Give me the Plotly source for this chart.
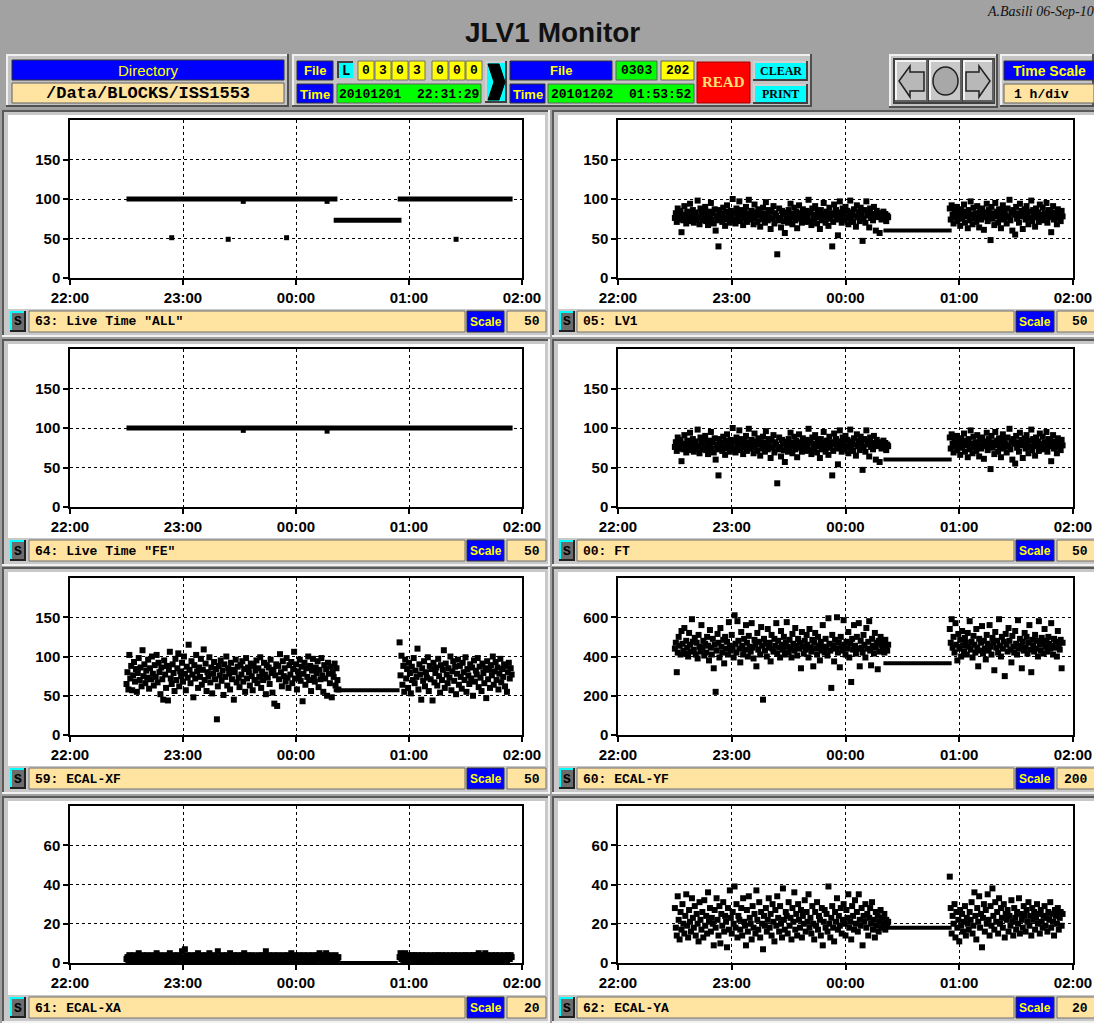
import numpy as np
import plotly.graph_objects as go

W, H = 1094, 1023

# ------------------------------------------------------------------ data
TICK_MIN = [0, 60, 120, 180, 240]            # minutes after 22:00
TICK_TXT = ["22:00", "23:00", "00:00", "01:00", "02:00"]
SEG_A_START = 30.0     # first block of samples starts 22:30
SEG_B_START = 175.0    # second block of samples starts 00:55
STEP = 0.5             # sampling step, minutes

LV1_A = [76, 82, 71, 88, 79, 74, 85, 58, 80, 73, 91, 77, 69, 84, 78, 72, 94, 81, 75, 86,
         70, 79, 83, 74, 98, 77, 68, 88, 81, 73, 85, 76, 90, 72, 80, 67, 84, 78, 95, 74,
         82, 69, 87, 60, 79, 73, 40, 86, 75, 81, 71, 89, 77, 66, 84, 92, 74, 80, 70, 85,
         78, 100, 73, 83, 69, 88, 76, 81, 97, 72, 86, 79, 67, 84, 75, 90, 71, 82, 99, 77,
         74, 85, 80, 68, 93, 76, 83, 71, 87, 79, 65, 82, 74, 89, 78, 70, 96, 81, 73, 86,
         77, 62, 84, 75, 91, 69, 82, 79, 30, 73, 88, 76, 64, 85, 80, 72, 57, 83, 78, 70,
         86, 74, 94, 81, 68, 77, 89, 73, 84, 63, 79, 92, 75, 82, 70, 87, 76, 80, 71, 85,
         78, 99, 72, 83, 67, 88, 80, 74, 91, 77, 69, 84, 79, 62, 86, 73, 81, 95, 76, 70,
         84, 78, 66, 89, 75, 82, 40, 71, 93, 79, 86, 74, 54, 83, 97, 77, 70, 88, 81, 73,
         90, 76, 85, 68, 80, 98, 74, 83, 71, 87, 79, 65, 92, 77, 84, 72, 89, 81, 47, 75,
         86, 70, 97, 79, 83, 64, 88, 76, 81, 73, 90, 78, 60, 85, 77, 82, 57, 79, 74, 80,
         84, 76, 81, 72, 79, 77]
LV1_B = [88, 74, 92, 80, 69, 85, 77, 90, 72, 83, 79, 66, 87, 75, 81, 93, 70, 84, 78, 63,
         86, 73, 97, 80, 68, 89, 76, 82, 71, 91, 78, 64, 85, 74, 88, 80, 61, 83, 77, 94,
         72, 86, 79, 48, 90, 75, 82, 67, 95, 78, 84, 70, 87, 76, 63, 81, 92, 74, 85, 79,
         69, 88, 77, 99, 73, 83, 60, 86, 80, 55, 90, 75, 82, 70, 94, 78, 85, 62, 79, 87,
         74, 91, 81, 68, 84, 76, 98, 72, 86, 79, 65, 88, 77, 83, 71, 93, 80, 75, 89, 73,
         82, 78, 95, 70, 86, 77, 84, 58, 80, 91, 74, 83, 79, 68, 87, 76, 81, 72, 85, 78]

XF_A = [65, 80, 58, 102, 72, 88, 57, 76, 93, 68, 84, 55, 79, 98, 70, 86, 62, 108, 75, 90,
        66, 82, 73, 96, 59, 85, 71, 100, 78, 63, 89, 74, 102, 67, 92, 80, 52, 86, 71, 45,
        95, 77, 60, 88, 44, 83, 106, 72, 65, 90, 79, 56, 97, 70, 85, 104, 62, 81, 75, 92,
        68, 100, 78, 57, 87, 73, 115, 83, 66, 94, 77, 48, 89, 72, 102, 81, 60, 86, 74, 97,
        64, 83, 109, 70, 91, 56, 80, 75, 99, 67, 86, 53, 78, 93, 71, 84, 20, 62, 88, 76,
        95, 69, 82, 51, 90, 74, 100, 63, 85, 78, 58, 92, 71, 83, 45, 80, 96, 67, 87, 73,
        61, 89, 77, 94, 68, 84, 55, 98, 72, 86, 80, 63, 91, 75, 57, 88, 70, 82, 95, 66,
        85, 74, 99, 60, 81, 70, 92, 77, 52, 89, 73, 86, 65, 96, 79, 54, 83, 40, 76, 90,
        37, 88, 71, 103, 80, 62, 94, 75, 85, 68, 98, 73, 60, 89, 77, 93, 66, 84, 106, 72,
        90, 58, 81, 75, 96, 69, 87, 43, 78, 92, 64, 85, 74, 100, 70, 88, 56, 82, 97, 73,
        68, 86, 79, 94, 61, 83, 71, 98, 76, 55, 89, 72, 84, 50, 92, 78, 66, 87, 48, 80,
        74, 91, 63, 85, 70, 58]
XF_B = [118, 76, 101, 64, 88, 55, 96, 72, 84, 60, 92, 79, 53, 87, 70, 98, 66, 82, 74, 110,
        58, 90, 77, 45, 85, 69, 94, 62, 80, 73, 99, 56, 88, 71, 84, 44, 92, 67, 79, 86,
        63, 97, 75, 54, 89, 70, 83, 108, 60, 91, 77, 66, 85, 73, 100, 57, 81, 94, 69, 87,
        52, 78, 96, 64, 88, 74, 59, 92, 80, 70, 99, 55, 84, 76, 65, 90, 72, 86, 50, 95,
        68, 82, 77, 98, 61, 87, 73, 56, 91, 79, 66, 85, 47, 94, 71, 83, 60, 89, 76, 100,
        64, 81, 93, 70, 86, 58, 78, 97, 67, 84, 74, 90, 62, 88, 55, 80, 92, 72, 85, 77]

YF_A = [440, 470, 320, 420, 500, 455, 410, 530, 465, 430, 545, 415, 480, 445, 400, 520, 460, 425, 590, 475,
        435, 495, 410, 470, 390, 510, 450, 425, 560, 440, 480, 405, 465, 420, 500, 455, 380, 535, 445, 410,
        490, 340, 460, 220, 430, 515, 470, 395, 545, 450, 420, 485, 365, 500, 440, 475, 410, 575, 455, 430,
        510, 445, 395, 610, 465, 420, 580, 480, 440, 370, 525, 455, 410, 490, 435, 560, 470, 400, 505, 450,
        425, 570, 445, 390, 485, 460, 350, 520, 435, 475, 410, 550, 455, 180, 490, 430, 465, 400, 540, 445,
        470, 375, 510, 440, 425, 490, 455, 570, 415, 480, 445, 395, 530, 460, 435, 500, 410, 470, 575, 450,
        420, 485, 440, 395, 515, 465, 430, 545, 455, 405, 490, 440, 470, 340, 525, 450, 415, 480, 435, 510,
        460, 395, 540, 445, 425, 485, 350, 470, 520, 440, 410, 500, 455, 380, 475, 430, 560, 450, 420, 490,
        445, 405, 595, 465, 430, 240, 510, 455, 375, 485, 440, 600, 420, 470, 345, 500, 450, 430, 585, 460,
        410, 475, 440, 525, 395, 465, 270, 490, 435, 560, 455, 415, 500, 440, 570, 350, 480, 445, 420, 510,
        460, 395, 545, 440, 475, 580, 430, 355, 490, 455, 415, 520, 445, 470, 335, 480, 425, 500, 460, 440,
        470, 420, 485, 450, 430, 460]
YF_B = [540, 470, 590, 445, 500, 420, 570, 460, 380, 515, 440, 485, 400, 530, 455, 425, 495, 470, 410, 520,
        450, 580, 435, 475, 395, 505, 460, 420, 540, 445, 350, 490, 430, 470, 555, 415, 480, 440, 385, 510,
        465, 430, 560, 450, 410, 495, 470, 330, 525, 445, 480, 420, 590, 455, 400, 500, 440, 475, 300, 515,
        460, 425, 545, 480, 435, 370, 505, 450, 420, 530, 465, 410, 585, 440, 490, 455, 340, 475, 430, 520,
        445, 500, 415, 470, 560, 435, 320, 485, 455, 425, 510, 440, 480, 400, 580, 460, 430, 495, 470, 415,
        540, 450, 480, 425, 500, 465, 440, 570, 455, 410, 490, 445, 475, 400, 530, 460, 435, 485, 340, 470]

YA_A = [28, 18, 14, 34, 22, 12, 26, 17, 30, 20, 15, 24, 35, 19, 13, 27, 21, 16, 33, 23,
        18, 29, 14, 25, 20, 11, 31, 22, 17, 26, 13, 32, 19, 24, 15, 36, 21, 28, 16, 23,
        20, 9, 27, 18, 33, 22, 14, 29, 10, 25, 19, 31, 16, 24, 21, 8, 28, 17, 37, 23,
        15, 26, 20, 39, 18, 30, 13, 24, 22, 17, 28, 14, 33, 21, 19, 9, 27, 16, 34, 23,
        20, 12, 29, 18, 25, 15, 37, 22, 17, 31, 13, 26, 20, 7, 24, 19, 28, 16, 22, 33,
        18, 25, 14, 30, 21, 11, 27, 19, 34, 23, 16, 29, 20, 13, 38, 22, 17, 26, 24, 15,
        31, 19, 23, 12, 28, 21, 36, 17, 25, 14, 30, 22, 18, 27, 13, 24, 20, 32, 16, 26,
        21, 35, 18, 23, 15, 29, 20, 12, 26, 19, 31, 17, 24, 22, 14, 28, 9, 21, 27, 18,
        25, 16, 39, 20, 13, 23, 29, 18, 11, 26, 21, 33, 17, 24, 19, 28, 15, 22, 30, 20,
        14, 27, 23, 35, 18, 21, 12, 29, 24, 17, 32, 20, 26, 16, 35, 22, 19, 28, 9, 24,
        21, 30, 18, 25, 14, 23, 28, 20, 31, 17, 22, 13, 26, 19, 24, 16, 21, 27, 18, 23,
        20, 25, 17, 22, 19, 21]
YA_B = [44, 28, 15, 24, 20, 30, 13, 26, 18, 22, 11, 27, 19, 25, 16, 21, 29, 14, 23, 20,
        17, 26, 22, 31, 15, 19, 36, 24, 12, 28, 21, 34, 18, 25, 8, 23, 30, 16, 27, 20,
        35, 22, 14, 29, 19, 38, 24, 17, 31, 21, 26, 15, 33, 20, 28, 23, 18, 30, 13, 25,
        22, 27, 16, 24, 19, 32, 21, 14, 28, 23, 17, 26, 20, 33, 15, 25, 22, 18, 29, 24,
        16, 27, 21, 31, 19, 24, 14, 28, 22, 26, 17, 23, 30, 20, 25, 15, 27, 21, 18, 24,
        29, 19, 23, 16, 26, 22, 31, 18, 25, 21, 14, 27, 24, 20, 28, 17, 23, 26, 19, 25]

XA_A = [2, 3, 1, 4, 2, 3, 1, 2, 4, 3, 1, 2, 3, 5, 2, 1, 3, 4, 2, 3,
        1, 2, 4, 3, 2, 1, 3, 2, 4, 1, 3, 2, 5, 3, 1, 2, 4, 2, 3, 1,
        3, 2, 4, 1, 2, 3, 5, 2, 1, 3, 4, 2, 3, 1, 2, 4, 3, 2, 1, 6,
        2, 3, 7, 1, 4, 2, 3, 1, 2, 4, 3, 2, 1, 3, 4, 2, 5, 1, 3, 2,
        4, 1, 2, 3, 2, 4, 1, 3, 5, 2, 3, 1, 4, 2, 3, 2, 1, 6, 3, 2,
        1, 3, 4, 2, 3, 1, 2, 4, 3, 2, 5, 1, 3, 2, 4, 1, 2, 3, 4, 2,
        3, 1, 2, 4, 3, 5, 2, 1, 3, 4, 2, 3, 1, 2, 4, 3, 2, 1, 3, 2,
        4, 2, 1, 3, 2, 4, 3, 1, 6, 2, 3, 4, 1, 2, 3, 2, 4, 1, 3, 2,
        2, 4, 1, 3, 2, 3, 1, 4, 2, 3, 2, 1, 4, 3, 2, 5, 1, 3, 2, 4,
        3, 1, 2, 4, 2, 3, 1, 2, 4, 3, 2, 1, 3, 4, 2, 3, 1, 2, 4, 3,
        2, 1, 3, 4, 2, 5, 3, 1, 2, 4, 3, 2, 5, 1, 3, 2, 4, 3, 2, 1,
        3, 2, 4, 1, 2, 3]
XA_B = [3, 5, 2, 4, 1, 3, 5, 2, 1, 4, 3, 2, 1, 4, 3, 2, 4, 1, 3, 2,
        4, 2, 1, 3, 4, 2, 3, 1, 4, 2, 3, 1, 2, 4, 3, 2, 1, 3, 4, 2,
        2, 4, 1, 3, 2, 4, 3, 1, 2, 4, 3, 2, 1, 3, 4, 2, 3, 1, 4, 2,
        3, 1, 4, 2, 3, 2, 1, 4, 3, 2, 4, 1, 3, 2, 4, 3, 1, 2, 4, 3,
        2, 4, 1, 3, 5, 2, 3, 1, 4, 2, 3, 5, 1, 4, 2, 3, 1, 2, 4, 3,
        1, 3, 4, 2, 3, 1, 4, 2, 3, 1, 2, 4, 3, 2, 1, 4, 3, 2, 4, 3]

# live-time plateaus: start minute, end minute, level
LT_ALL_X0 = [30, 140, 174]
LT_ALL_X1 = [142, 176, 235]
LT_ALL_Y = [100, 73, 100]
LT_ALL_OX = [54, 84, 115, 205, 92, 136.5]
LT_ALL_OY = [51, 49, 51, 49, 97, 97]
LT_FE_X0 = [30]
LT_FE_X1 = [235]
LT_FE_Y = [100]
LT_FE_OX = [92, 136.5]
LT_FE_OY = [97, 96]

# constant level while beam gap (x0, x1, level)
FLAT_LV1 = (140, 176, 60)
FLAT_XF = (140, 175, 57)
FLAT_YF = (140, 176, 365)
FLAT_YA = (142, 176, 18)
FLAT_XA = (143, 174, 0)

PANELS = [
    dict(label='63: Live Time "ALL"', scale=50, ymax=200, kind="lt", lt=(LT_ALL_X0, LT_ALL_X1, LT_ALL_Y, LT_ALL_OX, LT_ALL_OY)),
    dict(label="05: LV1", scale=50, ymax=200, kind="cloud", a=LV1_A, b=LV1_B, flat=FLAT_LV1),
    dict(label='64: Live Time "FE"', scale=50, ymax=200, kind="lt", lt=(LT_FE_X0, LT_FE_X1, LT_FE_Y, LT_FE_OX, LT_FE_OY)),
    dict(label="00: FT", scale=50, ymax=200, kind="cloud", a=LV1_A, b=LV1_B, flat=FLAT_LV1),
    dict(label="59: ECAL-XF", scale=50, ymax=200, kind="cloud", a=XF_A, b=XF_B, flat=FLAT_XF),
    dict(label="60: ECAL-YF", scale=200, ymax=800, kind="cloud", a=YF_A, b=YF_B, flat=FLAT_YF),
    dict(label="61: ECAL-XA", scale=20, ymax=80, kind="cloud", a=XA_A, b=XA_B, flat=FLAT_XA),
    dict(label="62: ECAL-YA", scale=20, ymax=80, kind="cloud", a=YA_A, b=YA_B, flat=FLAT_YA),
]

# ------------------------------------------------------------------ helpers
def X(px):
    return px / W


def Y(py):
    return 1 - py / H


shapes = []
annots = []


def rect(x0, y0, x1, y1, fill, line=None, lw=1):
    shapes.append(dict(type="rect", xref="paper", yref="paper", x0=X(x0), x1=X(x1), y0=Y(y1), y1=Y(y0),
                       fillcolor=fill, line=dict(color=line or fill, width=lw if line else 0), layer="below"))


def hline(x0, x1, y, color, w=1):
    shapes.append(dict(type="line", xref="paper", yref="paper", x0=X(x0), x1=X(x1), y0=Y(y), y1=Y(y),
                       line=dict(color=color, width=w), layer="below"))


def vline(x, y0, y1, color, w=1):
    shapes.append(dict(type="line", xref="paper", yref="paper", x0=X(x), x1=X(x), y0=Y(y0), y1=Y(y1),
                       line=dict(color=color, width=w), layer="below"))


def bevel(x0, y0, x1, y1, fill, raised=True, light="#f0f0f0", dark="#505050", w=2):
    rect(x0, y0, x1, y1, fill)
    a, b = (light, dark) if raised else (dark, light)
    hline(x0, x1, y0 + w / 2, a, w)
    vline(x0 + w / 2, y0, y1, a, w)
    hline(x0, x1, y1 - w / 2, b, w)
    vline(x1 - w / 2, y0, y1, b, w)


def path(pts, fill, line, lw=1):
    d = "M " + " L ".join(f"{X(px):.5f},{Y(py):.5f}" for px, py in pts) + " Z"
    shapes.append(dict(type="path", xref="paper", yref="paper", path=d, fillcolor=fill,
                       line=dict(color=line, width=lw), layer="below"))


def text(x, y, s, size, color="black", family="Liberation Sans", bold=False, anchor="center", italic=False):
    annots.append(dict(x=X(x), y=Y(y), xref="paper", yref="paper", text=s, showarrow=False,
                       xanchor=anchor, yanchor="middle",
                       font=dict(size=size, color=color, family=family,
                                 weight="bold" if bold else "normal",
                                 style="italic" if italic else "normal")))


MONO = "Liberation Mono"
SANS = "Liberation Sans"
BLUE = "#0000ff"
YEL = "#ffff00"
BEIGE = "#ffe3a0"
GREEN = "#00ff00"
CYAN = "#00ffff"

# ------------------------------------------------------------------ header
rect(0, 0, W, 110, "#a2a2a2")
text(552, 33, "JLV1 Monitor", 28, "#111111", SANS, bold=True)
text(985, 12, "A.Basili 06-Sep-10", 14, "#111111", "Liberation Serif", italic=True, anchor="left")

# directory group
bevel(6, 54, 289, 107, "#c4c4c4", raised=True)
rect(12, 60, 284, 80, BLUE, "#303030")
text(148, 70.5, "Directory", 15, YEL, SANS)
rect(12, 83, 284, 103, BEIGE, "#606060")
text(148, 93.5, "/Data/BLOCKS/ISS1553", 17, "black", MONO, bold=True)

# file / time group
bevel(292, 54, 812, 107, "#c4c4c4", raised=True)
rect(297, 61, 333, 80, BLUE, "#303030")
text(315, 71, "File", 13, YEL, SANS, bold=True)
rect(297, 84, 333, 103, BLUE, "#303030")
text(315, 94, "Time", 13, YEL, SANS, bold=True)
bevel(337, 61, 355, 80, CYAN, raised=False, light="#c0c0c0", dark="#404040")
text(346, 71, "L", 14, "black", MONO, bold=True)
for i, d in enumerate("0303"):
    x0 = 358 + i * 17
    rect(x0, 61, x0 + 16, 80, YEL, "#707070")
    text(x0 + 8, 71, d, 13, "black", MONO, bold=True)
for i, d in enumerate("000"):
    x0 = 432 + i * 17
    rect(x0, 61, x0 + 16, 80, YEL, "#707070")
    text(x0 + 8, 71, d, 13, "black", MONO, bold=True)
rect(337, 84, 481, 103, GREEN, "#606060")
text(409, 94, "20101201  22:31:29", 13, "black", MONO, bold=True)
bevel(485, 61, 507, 103, CYAN, raised=True, light="#d0d0d0", dark="#404040")
path([(488, 64), (499, 64), (505, 82), (499, 100), (488, 100), (494, 82)], "black", "black")

rect(510, 61, 612, 80, BLUE, "#303030")
text(561, 71, "File", 13, YEL, SANS, bold=True)
rect(616, 61, 657, 80, GREEN, "#606060")
text(636.5, 71, "0303", 13, "black", MONO, bold=True)
rect(661, 61, 694, 80, YEL, "#606060")
text(677.5, 71, "202", 13, "black", MONO, bold=True)
rect(510, 84, 545, 103, BLUE, "#303030")
text(527.5, 94, "Time", 13, YEL, SANS, bold=True)
rect(548, 84, 694, 103, GREEN, "#606060")
text(621, 94, "20101202  01:53:52", 13, "black", MONO, bold=True)
rect(697, 62, 750, 103, "#ff0000", "#a00000")
text(723.5, 82, "READ", 15, "#ffe070", "Liberation Serif", bold=True)
bevel(753, 61, 808, 81, CYAN, raised=True, light="#d0d0d0", dark="#404040")
text(780.5, 71, "CLEAR", 12, "black", "Liberation Serif", bold=True)
bevel(753, 84, 808, 104, CYAN, raised=True, light="#d0d0d0", dark="#404040")
text(780.5, 94, "PRINT", 12, "black", "Liberation Serif", bold=True)

# navigation buttons
bevel(889, 54, 998, 108, "#c4c4c4", raised=True)
rect(893, 58, 995, 104, "#404040")
for bx0, bx1 in [(895, 928), (929, 962), (963, 994)]:
    bevel(bx0, 60, bx1, 102, "#c8c8c8", raised=True, light="#f4f4f4", dark="#606060")
path([(899, 81), (910, 66), (910, 72), (924, 72), (924, 91), (910, 91), (910, 97)], "#b8b8b8", "#202020", 1.5)
path([(990, 81), (979, 66), (979, 72), (966, 72), (966, 91), (979, 91), (979, 97)], "#b8b8b8", "#202020", 1.5)
shapes.append(dict(type="circle", xref="paper", yref="paper", x0=X(933), x1=X(958), y0=Y(95), y1=Y(67),
                   fillcolor="#a8a8a8", line=dict(color="#202020", width=1.5), layer="below"))

# time scale group
bevel(1000, 54, 1094, 107, "#c4c4c4", raised=True)
rect(1004, 61, 1094, 80, BLUE, "#303030")
text(1049, 71, "Time Scale", 14, YEL, SANS, bold=True)
rect(1004, 84, 1094, 103, BEIGE, "#606060")
text(1012, 94, "1 h/div", 13, "black", MONO, bold=True, anchor="left")

# ------------------------------------------------------------------ panels
rect(0, 108, W, H, "#a0a0a0")
COLS = [dict(ox0=2, ox1=550, wx0=8, wx1=545, px0=70, px1=522,
             s=(10, 26), lab=(29, 465), sc=(467, 504), val=(507, 546)),
        dict(ox0=552, ox1=1096, wx0=558, wx1=1094, px0=618, px1=1073,
             s=(559, 575), lab=(577, 1014), sc=(1016, 1054), val=(1057, 1096))]
ROW_TOP = [110, 339, 567, 796]
PLOT_TB = [(120, 278), (349, 507), (578, 735), (806, 963)]

layout_axes = {}
traces = []
for i, p in enumerate(PANELS):
    r, c = divmod(i, 2)
    C = COLS[c]
    top = ROW_TOP[r]
    bevel(C["ox0"], top, C["ox1"], top + 227, "#c8c8c8", raised=False, light="#f2f2f2", dark="#5a5a5a")
    rect(C["wx0"], top + 5, C["wx1"], top + 199, "white")
    by0, by1 = top + 201, top + 222
    bevel(C["s"][0], by0, C["s"][1], by1, "#6c6c6c", raised=True, light=CYAN, dark="#202020")
    text((C["s"][0] + C["s"][1]) / 2, (by0 + by1) / 2 + 0.5, "S", 13, "black", MONO, bold=True)
    rect(C["lab"][0], by0, C["lab"][1], by1, BEIGE, "#707070")
    text(C["lab"][0] + 4, (by0 + by1) / 2 + 0.5, p["label"], 13, "black", MONO, bold=True, anchor="left")
    rect(C["sc"][0], by0, C["sc"][1], by1, BLUE, "#303030")
    text((C["sc"][0] + C["sc"][1]) / 2, (by0 + by1) / 2 + 0.5, "Scale", 12, YEL, SANS, bold=True)
    rect(C["val"][0], by0, C["val"][1], by1, BEIGE, "#707070")
    text(min(C["val"][1], W) - 4, (by0 + by1) / 2 + 0.5, str(p["scale"]), 13, "black", MONO, bold=True, anchor="right")

    k = i + 1
    xs = "x" if k == 1 else f"x{k}"
    ys = "y" if k == 1 else f"y{k}"
    t, b = PLOT_TB[r]
    common = dict(showgrid=True, gridcolor="black", griddash="dot", gridwidth=1,
                  showline=True, linecolor="black", linewidth=1.5, mirror=True,
                  ticks="outside", ticklen=5, tickwidth=1.5, tickcolor="black", zeroline=False,
                  fixedrange=True, automargin=False,
                  tickfont=dict(family=SANS, size=15, color="black", weight="bold"))
    layout_axes["xaxis" if k == 1 else f"xaxis{k}"] = dict(
        domain=[X(C["px0"]), X(C["px1"])], range=[0, 240], tickvals=TICK_MIN, ticktext=TICK_TXT,
        anchor=ys, **common)
    layout_axes["yaxis" if k == 1 else f"yaxis{k}"] = dict(
        domain=[Y(b), Y(t)], range=[0, p["ymax"]],
        tickvals=[0, p["scale"], 2 * p["scale"], 3 * p["scale"]], anchor=xs, **common)

    if p["kind"] == "lt":
        x0s, x1s, lv, ox, oy = p["lt"]
        for a0, a1, yv in zip(x0s, x1s, lv):
            traces.append(go.Scatter(x=[a0, a1], y=[yv, yv], mode="lines", line=dict(color="black", width=5),
                                     xaxis=xs, yaxis=ys, hoverinfo="skip"))
        traces.append(go.Scatter(x=ox, y=oy, mode="markers",
                                 marker=dict(symbol="square", size=5, color="black", line=dict(width=0)),
                                 xaxis=xs, yaxis=ys, hoverinfo="skip"))
    else:
        f0, f1, fl = p["flat"]
        traces.append(go.Scatter(x=[f0, f1], y=[fl, fl], mode="lines", line=dict(color="black", width=4),
                                 xaxis=xs, yaxis=ys, hoverinfo="skip"))
        for start, vals in [(SEG_A_START, p["a"]), (SEG_B_START, p["b"])]:
            xv = start + STEP * np.arange(len(vals))
            traces.append(go.Scatter(x=xv, y=vals, mode="markers",
                                     marker=dict(symbol="square", size=6, color="black", line=dict(width=0)),
                                     xaxis=xs, yaxis=ys, hoverinfo="skip"))

fig = go.Figure(data=traces)
fig.update_layout(template="none", width=W, height=H,
                  margin=dict(l=0, r=0, t=0, b=0, pad=0, autoexpand=False), showlegend=False,
                  paper_bgcolor="#a0a0a0", plot_bgcolor="white",
                  shapes=shapes, annotations=annots, **layout_axes)
fig.write_html("out.html", config=dict(displayModeBar=False),
               post_script="document.body.style.margin='0';document.body.style.overflow='hidden';")
